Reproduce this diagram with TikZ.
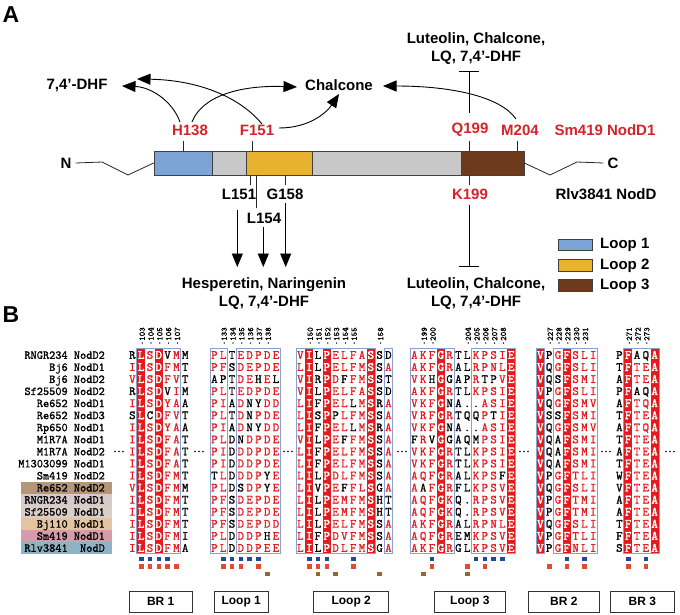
\documentclass[tikz,border=0pt]{standalone}
\usepackage{fontspec}
\setmainfont{Liberation Sans}
\newfontfamily\alnmono[FakeBold=1.2]{Latin Modern Mono}
\newfontfamily\alnmonob[FakeBold=2.6]{Latin Modern Mono}
\usetikzlibrary{arrows.meta}
\definecolor{nred}{RGB}{212,35,42}
\definecolor{loopblue}{RGB}{125,164,214}
\definecolor{loopyel}{RGB}{232,178,48}
\definecolor{loopbrown}{RGB}{110,58,30}
\definecolor{bargray}{RGB}{200,200,200}
\definecolor{boxblue}{RGB}{140,160,205}
\definecolor{alnred}{RGB}{226,28,30}
\definecolor{sqblue}{RGB}{30,75,150}
\definecolor{sqred}{RGB}{226,76,46}
\definecolor{sqbrown}{RGB}{152,102,42}
\definecolor{shA}{RGB}{182,150,120}
\definecolor{shB}{RGB}{214,202,202}
\definecolor{shC}{RGB}{218,206,200}
\definecolor{shD}{RGB}{228,196,160}
\definecolor{shE}{RGB}{212,156,172}
\definecolor{shF}{RGB}{143,178,196}
\newcommand\fA{\fontsize{15}{18}\selectfont\bfseries}
\newcommand\alnfont{\fontsize{12.5}{12.5}\selectfont\alnmono}
\newcommand\alnfontb{\fontsize{12.5}{12.5}\selectfont\alnmonob}
\newcommand\hdrfont{\fontsize{8.5}{8.5}\selectfont\alnmono}
\newcommand\labfont{\fontsize{12}{12}\selectfont\alnmono}
\newcommand\brfont{\fontsize{12}{14}\selectfont\bfseries}
\newcommand\panelfont{\fontsize{23}{23}\selectfont\bfseries}
% alignment machinery
\newcount\alncol
\newif\ifalnbg
\newcommand\alnrow[3]{\def\alnx{#1}\def\alnri{#2}%
  \pgfmathsetmacro\alny{355+12.06*(#2-1)+3.8}%
  \alncol=0 \alnbgfalse\alnscan#3\relax}
\def\alnscan#1{\ifx#1\relax\else\alnhandle{#1}\expandafter\alnscan\fi}
\def\alnhandle#1{\ifx#1*\alnbgtrue\else\alndraw{#1}\alnbgfalse\advance\alncol by 1\relax\fi}
\def\alndraw#1{%
  \pgfmathsetmacro\alncx{\alnx+4.4+8.8*\the\alncol}%
  \ifalnbg \node[alnw] at (\alncx,\alny) {#1};%
  \else\ifnum`#1>96 \node[alnk] at (\alncx,\alny) {\uppercase{#1}};%
  \else\ifnum`#1=45 \node[alnk] at (\alncx,\alny) {.};%
  \else \node[alnr] at (\alncx,\alny) {#1};%
  \fi\fi\fi}
\newcommand\alnblock[2]{\foreach \rs [count=\ri] in {#2}{\edef\alntmp{\noexpand\alnrow{#1}{\ri}{\rs}}\alntmp}}
\newcommand\hdr[3]{\node[hdrs] at ({#1+4.4+8.8*#2+1},345.5) {\textperiodcentered#3};}
\newcommand\abox[3]{\draw[boxl] ({#1+8.8*#2},348) rectangle ({#1+8.8*(#3+1)},553);}
\newcommand\astrip[2]{\fill[alnred] ({#1+8.8*#2+0.3},348.5) rectangle ({#1+8.8*(#2+1)-0.3},552.5);}
\newcommand\lab[2]{\pgfmathsetmacro\ly{355+12.06*(#1-1)+3.8}\node[lab] (lab#1) at (105,\ly) {#2};}
\newcommand\labshade[2]{\fill[#2] (21,{355+12.06*(#1-1)-6.03}) rectangle (112,{355+12.06*(#1-1)+6.03});}
\newcommand\sqs[4]{\foreach \c in {#4} {\fill[#1] ({#2+4.4+8.8*\c-2.3},{#3-2.3}) rectangle ++(4.6,4.6);}}
\newcommand\adots[1]{\foreach \dd in {-4,0,4} {\fill ({#1+\dd},451.5) circle (0.9);}}
\begin{document}
\begin{tikzpicture}[x=1pt,y=-1pt,
  bl/.style={font=\fA, inner sep=0pt, text=black},
  rl/.style={bl, text=nred},
  seg/.style={draw=black!75, line width=0.7pt, minimum height=24pt, inner sep=0pt},
  tk/.style={line width=0.8pt, black!85},
  arr/.style={line width=0.9pt, -{Triangle[length=13.5pt,width=11pt]}},
  tbar/.style={line width=0.9pt, -{Bar[width=20pt]}},
  alnr/.style={font=\alnfont, text=alnred, anchor=base, inner sep=0pt},
  alnk/.style={alnr, text=black},
  alnw/.style={alnr, text=white, font=\alnfontb},
  hdrs/.style={font=\hdrfont, rotate=90, anchor=west, inner sep=0pt},
  boxl/.style={draw=boxblue, line width=0.8pt},
  lab/.style={font=\labfont, anchor=base east, inner sep=0pt},
  brbox/.style={draw=black!80, line width=0.8pt, font=\brfont, minimum height=21pt, inner sep=0pt},
  legbox/.style={draw=black!75, line width=0.7pt, minimum width=34pt, minimum height=11.5pt, inner sep=0pt}]
\useasboundingbox (0,0) rectangle (680,614);
\fill[white] (0,0) rectangle (680,614);
% ---------------- Panel A ----------------
\node[font=\panelfont, inner sep=0pt] (pA) at (11,15) {A};
\node[seg, fill=loopblue, minimum width=58pt] (s1) at (183,163) {};
\node[seg, fill=bargray, minimum width=34pt] (s2) at (229,163) {};
\node[seg, fill=loopyel, minimum width=66pt] (s3) at (279,163) {};
\node[seg, fill=bargray, minimum width=149pt] (s4) at (386.5,163) {};
\node[seg, fill=loopbrown, minimum width=63pt] (s5) at (492.5,163) {};
\node[bl] (N) at (66,163) {N};
\node[bl] (C) at (613,163) {C};
\draw[tk] ([xshift=4pt]N.east) -- (102,162) -- (128,175) -- (s1.west);
\draw[tk] (s5.east) -- (550,175) -- (577,162) -- ([xshift=-4pt]C.west);
% labels
\node[rl] (H138) at (190,130) {H138};
\node[rl] (F151) at (257,130) {F151};
\node[rl] (Q199) at (470,130) {Q199};
\node[rl] (M204) at (520,130) {M204};
\node[rl] (Sm) at (605,130) {Sm419 NodD1};
\node[rl] (K199) at (470,194) {K199};
\node[bl] (Rlv) at (606,194) {Rlv3841 NodD};
\node[bl] (L151) at (239,194) {L151};
\node[bl] (G158) at (285,194) {G158};
\node[bl] (L154) at (264,218) {L154};
\node[bl] (DHF) at (77,85) {7,4’-DHF};
\node[bl] (Chal) at (339,85) {Chalcone};
\node[bl, align=center] (LutT) at (476,49) {Luteolin, Chalcone,\\LQ, 7,4’-DHF};
\node[bl, align=center] (LutB) at (476,294) {Luteolin, Chalcone,\\LQ, 7,4’-DHF};
\node[bl, align=center] (Hes) at (264,294) {Hesperetin, Naringenin\\LQ, 7,4’-DHF};
% ticks
\coordinate (tH) at (183,141); \draw[tk] (tH) -- (tH |- s1.north);
\coordinate (tF) at (252,141); \draw[tk] (tF) -- (tF |- s3.north);
\coordinate (tQ) at (469,141); \draw[tk] (tQ) -- (tQ |- s5.north);
\coordinate (tM) at (517,141); \draw[tk] (tM) -- (tM |- s5.north);
\coordinate (tK) at (469,185); \draw[tk] (tK) -- (tK |- s5.south);
\coordinate (tL1) at (250.7,185); \draw[tk] (tL1) -- (tL1 |- s3.south);
\coordinate (tG) at (285.7,185); \draw[tk] (tG) -- (tG |- s3.south);
\coordinate (tL4) at (256.7,208); \draw[tk] (tL4) -- (tL4 |- s3.south);
% inhibition bars
\coordinate (qTop) at (469,71); \coordinate (qBot) at (469,113);
\draw[tbar] (qBot) -- (qTop);
\coordinate (kTop) at (469,205); \coordinate (kBot) at (469,267);
\draw[tbar] (kTop) -- (kBot);
% down arrows
\coordinate (d1) at (237.3,210); \coordinate (d2) at (263.3,227); \coordinate (d3) at (285.7,203);
\draw[arr] (d1) -- (d1 |- 0,267);
\draw[arr] (d2) -- (d2 |- 0,267);
\draw[arr] (d3) -- (d3 |- 0,267);
% curved arrows
\coordinate (a1s) at (180,122); \coordinate (a1e) at (122,86);
\draw[arr] (a1s) .. controls (172,100) and (150,87) .. (a1e);
\coordinate (a2s) at (262,124); \coordinate (a2e) at (137,79);
\draw[arr] (a2s) .. controls (238,95) and (195,80) .. (a2e);
\coordinate (a3s) at (192,122); \coordinate (a3e) at (297,87);
\draw[arr] (a3s) .. controls (202,96) and (240,85) .. (a3e);
\coordinate (a4s) at (279,128); \coordinate (a4e) at (339,94);
\draw[arr] (a4s) .. controls (310,128) and (327,112) .. (a4e);
\coordinate (a5s) at (516,119); \coordinate (a5e) at (383,86);
\draw[arr] (a5s) .. controls (500,96) and (450,86) .. (a5e);
% legend
\node[legbox, fill=loopblue] (lg1) at (575,245) {};
\node[legbox, fill=loopyel] (lg2) at (575,265.5) {};
\node[legbox, fill=loopbrown] (lg3) at (575,285.5) {};
\node[bl, anchor=west] (lt1) at (600,245) {Loop 1};
\node[bl, anchor=west] (lt2) at (600,265.5) {Loop 2};
\node[bl, anchor=west] (lt3) at (600,285.5) {Loop 3};
% ---------------- Panel B ----------------
\node[font=\panelfont, inner sep=0pt] (pB) at (11,315) {B};
\labshade{12}{shA}\labshade{13}{shB}\labshade{14}{shC}\labshade{15}{shD}\labshade{16}{shE}\labshade{17}{shF}
\lab{1}{RNGR234 NodD2}
\lab{2}{Bj6 NodD1}
\lab{3}{Bj6 NodD2}
\lab{4}{Sf25509 NodD2}
\lab{5}{Re652 NodD1}
\lab{6}{Re652 NodD3}
\lab{7}{Rp650 NodD1}
\lab{8}{M1R7A NodD1}
\lab{9}{M1R7A NodD2}
\lab{10}{M1303099 NodD1}
\lab{11}{Sm419 NodD2}
\lab{12}{Re652 NodD2}
\lab{13}{RNGR234 NodD1}
\lab{14}{Sf25509 NodD1}
\lab{15}{Bj110 NodD1}
\lab{16}{Sm419 NodD1}
\lab{17}{Rlv3841~~NodD}
% red strips
\astrip{128}{1}\astrip{128}{3}
\astrip{296}{1}\astrip{296}{3}\astrip{296}{8}
\astrip{410}{3}\astrip{410}{11}
\astrip{536}{0}\astrip{536}{3}
\astrip{615}{1}\astrip{615}{4}
% boxes
\abox{128}{1}{5}
\abox{210}{0}{1}\abox{210}{3}{7}
\abox{296}{0}{8}\abox{296}{10}{10}
\abox{410}{0}{4}\abox{410}{7}{11}
\abox{536}{0}{0}\abox{536}{2}{6}
\abox{615}{1}{4}
% headers
\hdr{128}{1}{103}\hdr{128}{2}{104}\hdr{128}{3}{105}\hdr{128}{4}{106}\hdr{128}{5}{107}
\hdr{210}{1}{133}\hdr{210}{2}{134}\hdr{210}{3}{135}\hdr{210}{4}{136}\hdr{210}{5}{137}\hdr{210}{6}{138}
\hdr{296}{1}{150}\hdr{296}{2}{151}\hdr{296}{3}{152}\hdr{296}{4}{153}\hdr{296}{5}{154}\hdr{296}{6}{155}\hdr{296}{9}{158}
\hdr{410}{1}{199}\hdr{410}{2}{200}\hdr{410}{6}{204}\hdr{410}{7}{205}\hdr{410}{8}{206}\hdr{410}{9}{207}\hdr{410}{10}{208}
\hdr{536}{1}{227}\hdr{536}{2}{228}\hdr{536}{3}{229}\hdr{536}{4}{230}\hdr{536}{5}{231}
\hdr{615}{1}{271}\hdr{615}{2}{272}\hdr{615}{3}{273}
% sequences
\alnblock{128}{r*LS*DvMm,I*LS*DFMt,V*LS*DFVt,r*LS*DvIm,I*LS*DYAa,s*Lc*DFVt,I*LS*DYAa,I*LS*DFAt,I*LS*DFAt,I*LS*DFAt,I*LS*DFMt,V*LS*DFMm,I*LS*DFMt,I*LS*DFMt,I*LS*DFMt,I*LS*DFMi,I*LS*DFMa}
\alnblock{210}{PLtEDPDE,PFsDEPDE,aptDEhEl,PLtEDPDE,PIaDnyDD,PLtDnPDE,PIaDnyDD,PLdnDPDE,PIdDDPDE,PIdDDPDE,tLdDDPyE,PLdsDPyE,PFsDEPDE,PFsDEPDE,PFsDEPDD,PLdDDPhE,PLdDDPEE}
\alnblock{296}{V*Il*PELFA*Ssd,L*Il*PELFM*SsA,V*Ir*PDfFM*Sst,V*Il*PELFA*Ssd,L*If*PELlM*SrA,L*Is*PpLFM*SsA,L*If*PELlM*SrA,V*Il*PEfFM*SsA,L*If*PELFM*SsA,L*If*PELFM*SsA,L*Il*PDLFM*SsA,L*Iv*PEfFL*SgA,L*Il*PEMFM*Sht,L*Il*PEMFM*Sht,L*Il*PELFM*SsA,L*If*PDVFM*SsA,L*Il*PDLFM*SgA}
\alnblock{410}{AKF*GRtlKPSI*E,AKF*GRalRPNL*E,VKh*GgapRtpV*E,AKF*GRtlKPSI*E,VKF*Gna--ASI*E,VRF*GRtqqPtI*E,VKF*Gna--ASI*E,fRv*GgaqmPSI*E,VKF*GRtlKPSI*E,VKF*GRtlKPSI*E,AQF*GRalKPSf*E,AaF*GRflKPSV*E,AQF*GKq-RPSV*E,AQF*GKq-RPSV*E,AKF*GRalRPNL*E,AQF*GRemKPSV*E,AKF*GRglKPSV*E}
\alnblock{536}{*VpG*FSLI,*VqG*FSLI,*Vqs*FSMI,*VpG*FSLI,*VqG*FSMV,*Vss*FSMI,*VqG*FSMV,*Vqa*FSMI,*Vqa*FSMI,*Vqa*FSMI,*VpG*FTLI,*VqG*FSLI,*VpG*FTMI,*VpG*FTMI,*VqG*FSLI,*VpG*FTLI,*VpG*FNLI}
\alnblock{615}{p*Faq*A,t*FTE*A,a*FTE*A,p*Faq*A,a*FTQ*A,t*FTE*A,a*FTQ*A,t*FTE*A,a*FTE*A,t*FTE*A,w*FTE*A,v*FTE*A,a*FTE*A,a*FTE*A,t*FTE*A,f*FTE*A,s*FTE*A}
% gap dots
\adots{119}\adots{199}\adots{288}\adots{402}\adots{524}\adots{606}\adots{670}
% marker squares
\sqs{sqblue}{128}{559}{1,2,3,4}
\sqs{sqred}{128}{566.5}{1,2,3,4,5}
\sqs{sqblue}{210}{559}{1,2,3,4,5}
\sqs{sqred}{210}{566.5}{1,2,3,5}
\sqs{sqbrown}{210}{574}{6}
\sqs{sqblue}{296}{559}{1,2,3,6}
\sqs{sqred}{296}{566.5}{1,2,3,6}
\sqs{sqbrown}{296}{574}{2,4,9}
\sqs{sqblue}{410}{559}{2,7,8,9,10}
\sqs{sqred}{410}{566.5}{2,6,8}
\sqs{sqbrown}{410}{574}{1,6}
\sqs{sqblue}{536}{559}{3,5}
\sqs{sqred}{536}{566.5}{1,3,5}
\sqs{sqblue}{615}{559}{1,3}
\sqs{sqred}{615}{566.5}{1,3}
% region boxes
\node[brbox, minimum width=63.5pt] (br1) at (160.7,601.5) {BR 1};
\node[brbox, minimum width=54.3pt] (lp1) at (241.2,601.5) {Loop 1};
\node[brbox, minimum width=74.8pt] (lp2) at (351.2,601.5) {Loop 2};
\node[brbox, minimum width=70.2pt] (lp3) at (469.9,601.5) {Loop 3};
\node[brbox, minimum width=71pt] (br2) at (563.9,601.5) {BR 2};
\node[brbox, minimum width=63.7pt] (br3) at (642.3,601.5) {BR 3};
\end{tikzpicture}
\end{document}
